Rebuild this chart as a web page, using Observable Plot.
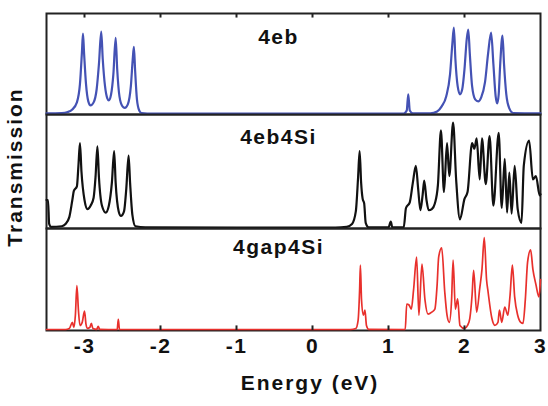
<!DOCTYPE html>
<html>
<head>
<meta charset="utf-8">
<script src="https://cdn.jsdelivr.net/npm/d3@7"></script>
<script src="https://cdn.jsdelivr.net/npm/@observablehq/plot@0.6"></script>
<style>
  html, body { margin: 0; padding: 0; background: #fff; }
  #chart { position: relative; width: 548px; height: 406px; overflow: hidden; font-family: "Liberation Sans", Arial, sans-serif; }
  #chart svg { position: absolute; left: 0; overflow: visible; background: transparent; }
  #chart svg text { letter-spacing: 1.5px; }
  .lbl { position: absolute; font-weight: bold; font-size: 21px; letter-spacing: 2px; color: #111; white-space: nowrap; }
</style>
</head>
<body>
<div id="chart"></div>
<script>
// ---- data ----
const panelNames = ["4eb", "4eb4Si", "4gap4Si"];
const xTicks = [-3, -2, -1, 0, 1, 2, 3];
const xLabel = "Energy (eV)";
const yLabel = "Transmission";

// 4eb (blue)
const e4eb = [-3.5,-3.3,-3.22,-3.16,-3.1,-3.06,-3.035,-3.02,-3.005,-2.98,-2.95,-2.92,-2.88,-2.84,-2.81,-2.78,-2.76,-2.73,-2.7,-2.68,-2.65,-2.62,-2.59,-2.57,-2.54,-2.5,-2.47,-2.43,-2.39,-2.365,-2.35,-2.335,-2.31,-2.28,-2.25,-2.1,
  1.2,1.24,1.26,1.28,1.32,1.55,1.64,1.7,1.76,1.81,1.84,1.86,1.88,1.91,1.94,1.97,2.0,2.03,2.05,2.07,2.1,2.14,2.18,2.22,2.27,2.31,2.35,2.38,2.41,2.43,2.45,2.47,2.5,2.52,2.55,2.59,2.64,3.0];
const t4eb = [0.012,0.015,0.025,0.05,0.12,0.3,0.6,0.8,0.6,0.3,0.13,0.09,0.12,0.25,0.5,0.82,0.55,0.28,0.16,0.14,0.2,0.4,0.76,0.45,0.18,0.08,0.065,0.1,0.28,0.55,0.67,0.45,0.15,0.04,0.015,0.01,
  0.01,0.04,0.2,0.04,0.012,0.012,0.03,0.08,0.18,0.4,0.7,0.86,0.55,0.28,0.2,0.25,0.45,0.75,0.84,0.6,0.28,0.15,0.13,0.17,0.32,0.6,0.81,0.5,0.18,0.11,0.2,0.5,0.78,0.5,0.2,0.06,0.015,0.012];

// 4eb4Si (black)
const e4eb4Si = [-3.5,-3.48,-3.465,-3.44,-3.3,-3.25,-3.2,-3.16,-3.14,-3.1,-3.08,-3.06,-3.04,-3.0,-2.96,-2.92,-2.88,-2.855,-2.83,-2.81,-2.77,-2.72,-2.68,-2.64,-2.61,-2.59,-2.55,-2.52,-2.48,-2.45,-2.42,-2.4,-2.37,-2.33,-2.2,-1.0,
  0.3,0.45,0.52,0.57,0.6,0.62,0.64,0.66,0.68,0.7,0.74,1.0,1.03,1.05,1.2,1.23,1.28,1.32,1.36,1.39,1.42,1.45,1.47,1.5,1.53,1.57,1.61,1.65,1.69,1.73,1.77,1.8,1.85,1.89,1.94,2.0,2.04,2.1,2.13,2.16,2.2,2.23,2.28,2.33,2.38,2.45,2.49,2.53,2.56,2.59,2.62,2.66,2.7,2.75,2.78,2.85,2.9,2.94,2.99,3.0];
const t4eb4Si = [0.25,0.25,0.04,0.015,0.02,0.04,0.1,0.25,0.33,0.37,0.55,0.75,0.5,0.25,0.17,0.2,0.27,0.45,0.72,0.45,0.2,0.14,0.2,0.4,0.68,0.4,0.15,0.11,0.15,0.35,0.64,0.4,0.12,0.02,0.01,0.008,
  0.008,0.015,0.04,0.15,0.45,0.68,0.4,0.26,0.22,0.05,0.01,0.01,0.06,0.01,0.01,0.18,0.23,0.4,0.55,0.35,0.16,0.3,0.42,0.25,0.16,0.17,0.22,0.38,0.86,0.32,0.75,0.46,0.93,0.43,0.08,0.26,0.32,0.75,0.7,0.79,0.43,0.79,0.39,0.81,0.2,0.84,0.18,0.61,0.14,0.49,0.13,0.55,0.17,0.05,0.55,0.77,0.43,0.46,0.29,0.3];

// 4gap4Si (red)
const e4gap4Si = [-3.5,-3.25,-3.2,-3.16,-3.14,-3.12,-3.1,-3.08,-3.06,-3.03,-3.0,-2.98,-2.96,-2.93,-2.91,-2.89,-2.84,-2.82,-2.8,-2.57,-2.555,-2.54,
  0.5,0.57,0.6,0.62,0.63,0.645,0.67,0.69,0.71,0.74,1.22,1.24,1.27,1.3,1.33,1.37,1.4,1.44,1.48,1.52,1.57,1.61,1.64,1.66,1.7,1.74,1.77,1.8,1.83,1.85,1.88,1.91,1.94,2.0,2.04,2.07,2.1,2.12,2.16,2.2,2.23,2.26,2.29,2.31,2.36,2.4,2.44,2.46,2.49,2.53,2.57,2.6,2.63,2.66,2.7,2.74,2.77,2.8,2.83,2.87,2.9,2.94,2.98,3.0];
const t4gap4Si = [0.01,0.01,0.02,0.08,0.03,0.15,0.44,0.2,0.05,0.08,0.19,0.06,0.02,0.03,0.07,0.02,0.012,0.04,0.012,0.01,0.11,0.01,
  0.01,0.02,0.1,0.4,0.64,0.3,0.15,0.2,0.05,0.012,0.01,0.26,0.25,0.21,0.4,0.72,0.15,0.65,0.3,0.16,0.18,0.21,0.45,0.72,0.81,0.38,0.15,0.08,0.3,0.69,0.21,0.31,0.05,0.02,0.05,0.12,0.35,0.59,0.18,0.41,0.6,0.91,0.5,0.38,0.12,0.05,0.08,0.2,0.08,0.23,0.15,0.35,0.64,0.33,0.15,0.08,0.07,0.3,0.67,0.79,0.6,0.45,0.33,0.5];

const panelColors = ["#4452b4", "#111111", "#e8302c"];

// ---- drawing ----
const W = 548, mL = 46, mR = 8;
const tops = [13, 114, 228], bottoms = [114, 228, 330];
const series = [[e4eb, t4eb], [e4eb4Si, t4eb4Si], [e4gap4Si, t4gap4Si]];
const labelDy = [16, 15, 11];
const lineWidths = [2.2, 2.2, 1.7];
const chart = document.getElementById("chart");
const fmt = d => (d < 0 ? "-" + Math.abs(d) : String(d));

series.forEach(([E, T], i) => {
  const data = E.map((e, k) => ({e, t: T[k]}));
  const h = bottoms[i] - tops[i];
  const isLast = i === 2;
  const mT = 2, mB = isLast ? 40 : 2;
  const marks = [
    Plot.frame({stroke: "#222", strokeWidth: 2}),
    Plot.lineY(data, {x: "e", y: "t", stroke: panelColors[i], strokeWidth: lineWidths[i], curve: "monotone-x"}),
    Plot.text([panelNames[i]], {text: d => d, frameAnchor: "top", dx: -15, dy: labelDy[i], fontSize: 21, fontWeight: "bold", fill: "#111"})
  ];
  if (i === 0) marks.push(Plot.ruleX(xTicks.slice(0, 6), {y1: 1, y2: 0.955, stroke: "#222", strokeWidth: 2}));
  if (isLast) {
    marks.push(Plot.ruleX(xTicks.slice(1, 6), {y1: 0, y2: 0.045, stroke: "#222", strokeWidth: 2}));
    marks.push(Plot.axisX(xTicks, {tickSize: 0, tickPadding: 8, fontSize: 21, fontWeight: "bold", fill: "#111", tickFormat: fmt, label: null}));
  }
  const svg = Plot.plot({
    width: W, height: h + mT + mB,
    marginLeft: mL, marginRight: mR, marginTop: mT, marginBottom: mB,
    x: {domain: [-3.5, 3], axis: null},
    y: {domain: [0, 1], axis: null},
    style: {fontFamily: "'Liberation Sans', Arial, sans-serif", background: "transparent", overflow: "visible"},
    marks
  });
  svg.style.top = (tops[i] - mT) + "px";
  chart.appendChild(svg);
});

const xl = document.createElement("div");
xl.className = "lbl";
xl.textContent = xLabel;
xl.style.left = "310px"; xl.style.top = "383px";
xl.style.transform = "translate(-50%, -50%)";
chart.appendChild(xl);

const yl = document.createElement("div");
yl.className = "lbl";
yl.textContent = yLabel;
yl.style.left = "15px"; yl.style.top = "167px";
yl.style.transform = "translate(-50%, -50%) rotate(-90deg)";
chart.appendChild(yl);
</script>
</body>
</html>
